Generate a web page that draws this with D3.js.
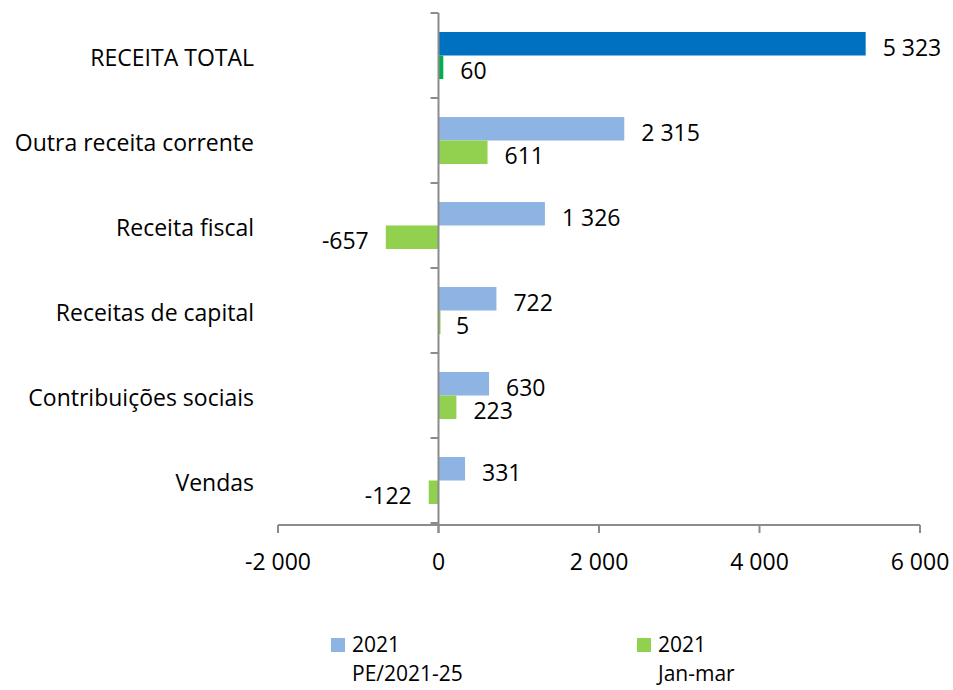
<!DOCTYPE html>
<html>
<head>
<meta charset="utf-8">
<script src="https://cdn.jsdelivr.net/npm/d3@7"></script>
<style>
body { margin: 0; background: #fff; }
text { font-family: "Open Sans", "Liberation Sans", sans-serif; fill: #000; }
</style>
</head>
<body>
<div id="chart"></div>
<script>
var categories = ["RECEITA TOTAL", "Outra receita corrente", "Receita fiscal", "Receitas de capital", "Contribuições sociais", "Vendas"]
var planValues = [5323, 2315, 1326, 722, 630, 331]
var actualValues = [60, 611, -657, 5, 223, -122]
var xTicks = [-2000, 0, 2000, 4000, 6000]
var seriesNames = [["2021", "PE/2021-25"], ["2021", "Jan-mar"]]

var width = 953, height = 690
var fontSize = "23px"
var svg = d3.select("#chart").append("svg")
    .attr("width", width)
    .attr("height", height)

var x = d3.scaleLinear().domain([-2000, 6000]).range([278, 920])
var y = d3.scaleBand().domain(categories).range([13, 523])
var inner = d3.scaleBand().domain([0, 1]).range([0, y.bandwidth()]).paddingInner(0).paddingOuter(0.81)

var fmt = function(v) {
    return d3.format(",")(v).replace(/,/g, " ").replace("\u2212", "-")
}

// bars
var rows = categories.map(function(c, i) { return {cat: c, vals: [planValues[i], actualValues[i]], i: i} })

function barColor(s, i) {
    if (i == 0) return s == 0 ? "#0070C0" : "#00B050"
    return s == 0 ? "#8EB4E3" : "#92D050"
}

rows.forEach(function(r) {
    r.vals.forEach(function(v, s) {
        var y0 = y(r.cat) + inner(s)
        svg.append("rect")
            .attr("x", x(Math.min(0, v)))
            .attr("y", y0)
            .attr("width", Math.max(2, Math.abs(x(v) - x(0))))
            .attr("height", inner.bandwidth())
            .attr("fill", barColor(s, r.i))
        svg.append("text")
            .attr("x", v >= 0 ? x(v) + 17 : x(v) - 17)
            .attr("y", y0 + inner.bandwidth() / 2 + 4)
            .attr("dy", "0.35em")
            .attr("text-anchor", v >= 0 ? "start" : "end")
            .style("font-size", fontSize)
            .text(fmt(v))
    })
})

// y axis
var yAxis = svg.append("g")
yAxis.append("line")
    .attr("x1", x(0)).attr("x2", x(0))
    .attr("y1", 13).attr("y2", 533)
    .attr("stroke", "#8c8c8c").attr("stroke-width", 2)
var yTicks = categories.map(function(c) { return y(c) }).concat([y.range()[1]])
yAxis.selectAll(".yt").data(yTicks).join("line")
    .attr("x1", x(0) - 8).attr("x2", x(0))
    .attr("y1", d => d).attr("y2", d => d)
    .attr("stroke", "#8c8c8c").attr("stroke-width", 2)
yAxis.selectAll(".yl").data(categories).join("text")
    .attr("x", 254)
    .attr("y", d => y(d) + y.bandwidth() / 2 + 2)
    .attr("dy", "0.35em")
    .attr("text-anchor", "end")
    .style("font-size", fontSize)
    .text(d => d)

// x axis
var xAxis = svg.append("g")
xAxis.append("line")
    .attr("x1", x(-2000)).attr("x2", x(6000))
    .attr("y1", 525).attr("y2", 525)
    .attr("stroke", "#8c8c8c").attr("stroke-width", 2)
xAxis.selectAll(".xt").data(xTicks).join("line")
    .attr("x1", d => x(d)).attr("x2", d => x(d))
    .attr("y1", 525).attr("y2", 533)
    .attr("stroke", "#8c8c8c").attr("stroke-width", 2)
xAxis.selectAll(".xl").data(xTicks).join("text")
    .attr("x", d => x(d))
    .attr("y", 562)
    .attr("dy", "0.35em")
    .attr("text-anchor", "middle")
    .style("font-size", fontSize)
    .text(d => fmt(d))

// legend
var legendX = [331, 637]
var legendColors = ["#8EB4E3", "#92D050"]
seriesNames.forEach(function(n, i) {
    var g = svg.append("g").attr("transform", "translate(" + legendX[i] + ",638)")
    g.append("rect").attr("width", 14).attr("height", 14).attr("fill", legendColors[i])
    g.append("text").attr("x", 21).attr("y", 7).attr("dy", "0.35em").style("font-size", "21px").text(n[0])
    g.append("text").attr("x", 21).attr("y", 36).attr("dy", "0.35em").style("font-size", "21px").text(n[1])
})
</script>
</body>
</html>
